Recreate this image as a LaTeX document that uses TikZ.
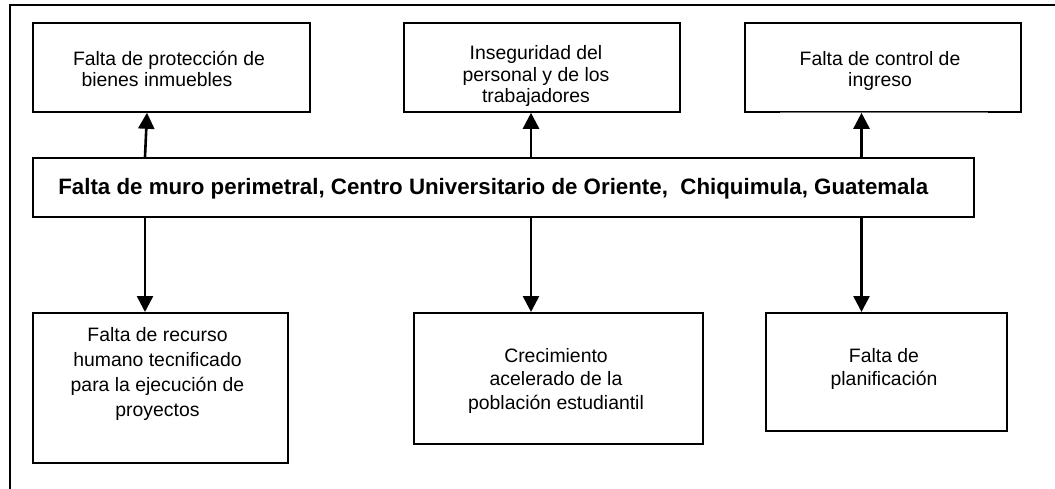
\documentclass[tikz,border=0pt]{standalone}
\usepackage{fontspec}
\setmainfont{Liberation Sans}
\usetikzlibrary{arrows.meta,calc}
\begin{document}
\begin{tikzpicture}[x=1pt,y=-1pt,
  box/.style={draw, line width=1.8pt, rectangle, inner sep=0pt, anchor=north west},
  txt/.style={align=center, anchor=base, inner sep=0pt, font=\fontsize{19.4}{21.5}\selectfont},
  txtlow/.style={txt, font=\fontsize{19.4}{23.5}\selectfont},
  txtwide/.style={txt, font=\fontsize{19.4}{25}\selectfont},
  title/.style={anchor=base, inner sep=0pt, font=\bfseries\fontsize{22.3}{24}\selectfont},
  arr/.style={line width=2.6pt, -{Triangle[length=16pt,width=16pt]}},
  frame/.style={line width=2pt}
]
\useasboundingbox (0,0) rectangle (1055,489);
\fill[white] (0,0) rectangle (1055,489);
% outer frame (left and top sides only)
\draw[frame] (9.5,489) -- (9.5,5) -- (1055,5);

% top boxes
\node[box, minimum width=277pt, minimum height=89pt] (t1) at (32,22) {};
\node[box, minimum width=276pt, minimum height=89pt] (t2) at (403,22) {};
\node[box, minimum width=276pt, minimum height=89pt] (t3) at (744,22) {};
% central box
\node[box, minimum width=941pt, minimum height=59pt] (c) at (32,157) {};
% bottom boxes
\node[box, minimum width=255pt, minimum height=150pt] (b1) at (32,312) {};
\node[box, minimum width=289pt, minimum height=131pt] (b2) at (413,312) {};
\node[box, minimum width=241pt, minimum height=118pt] (b3) at (765,312) {};

% lighter middle part of the lower side of the third top box
\draw[white, line width=2.4pt] ($(t3.south west)+(36,0)$) -- ($(t3.south west)+(244,0)$);
\draw[black!55, line width=0.8pt] ($(t3.south west)+(36,0)$) -- ($(t3.south west)+(244,0)$);

% texts (anchor base = baseline of the last line)
\node[txt] (t1x) at (169,86.9) {Falta de protección de\\bienes inmuebles\hspace*{24pt}};
\node[txt] (t2x) at (536,103) {Inseguridad del\\personal y de los\\trabajadores};
\node[txt] (t3x) at (880,86.9) {Falta de control de\\ingreso};
\node[title] (cx) at (493.3,195) {Falta de muro perimetral, Centro Universitario de Oriente,\ \ Chiquimula, Guatemala};
\node[txtwide] (b1x) at (157.5,416.7) {Falta de recurso\\humano tecnificado\\para la ejecución de\\proyectos};
\node[txtlow] (b2x) at (556,409) {Crecimiento\\acelerado de la\\población estudiantil};
\node[txtlow] (b3x) at (884,385.5) {Falta de\\planificación};

% arrow positions
\coordinate (a1) at (145,0);
\coordinate (a1t) at (147,0);
\coordinate (a2) at (531,0);
\coordinate (a3) at (861.5,0);

\draw[arr] (a1 |- c.north) -- (a1t |- t1.south);
\draw[arr] (a2 |- c.north) -- (a2 |- t2.south);
\draw[arr] (a3 |- c.north) -- (a3 |- t3.south);
\draw[arr] (a1 |- c.south) -- (a1 |- b1.north);
\draw[arr] (a2 |- c.south) -- (a2 |- b2.north);
\draw[arr] (a3 |- c.south) -- (a3 |- b3.north);
\end{tikzpicture}
\end{document}
